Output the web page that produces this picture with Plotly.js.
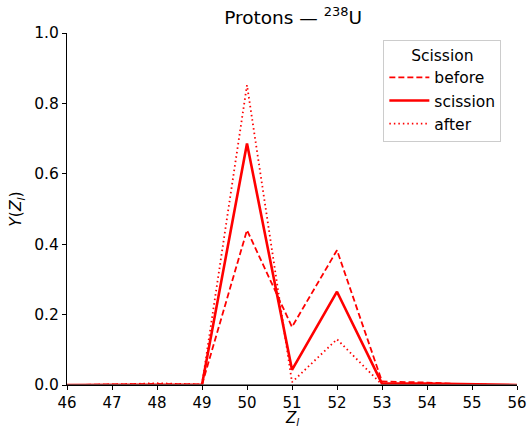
<!DOCTYPE html>
<html><head><meta charset="utf-8">
<script src="https://cdn.plot.ly/plotly-3.0.1.min.js"></script>
<style>body{margin:0;background:#fff}#c{width:530px;height:430px}</style>
</head><body><div id="c"></div>
<script>
const Z = [46, 47, 48, 49, 50, 51, 52, 53, 54, 55, 56];
const before   = [0.0, 0.001, 0.003, 0.001, 0.440, 0.165, 0.383, 0.010, 0.007, 0.001, 0.0];
const scission = [0.0, 0.001, 0.002, 0.001, 0.686, 0.043, 0.265, 0.004, 0.004, 0.001, 0.0];
const after    = [0.0, 0.001, 0.005, 0.001, 0.852, 0.008, 0.130, 0.001, 0.002, 0.0, 0.0];
const xTicks = [46, 47, 48, 49, 50, 51, 52, 53, 54, 55, 56];
const yTicks = [0.0, 0.2, 0.4, 0.6, 0.8, 1.0];

const red = '#ff0000';
const traces = [
  {x: Z, y: before, name: 'before', mode: 'lines', line: {color: red, width: 1.8, dash: '6px,3px'}},
  {x: Z, y: scission, name: 'scission', mode: 'lines', line: {color: red, width: 2.6}},
  {x: Z, y: after, name: 'after', mode: 'lines', line: {color: red, width: 1.8, dash: '1.5px,3px'}}
];
const F = 'DejaVu Sans';
const layout = {
  width: 530, height: 430,
  margin: {l: 67, r: 13, t: 33, b: 45},
  paper_bgcolor: '#fff', plot_bgcolor: '#fff',
  font: {family: F, size: 16, color: '#000'},
  title: {text: 'Protons — <sup>238</sup>U', font: {family: F, size: 18.5, color: '#000'}, x: 0.553, xanchor: 'center', y: 0.975, yanchor: 'top'},
  xaxis: {
    range: [46, 56], tickvals: xTicks, ticktext: xTicks.map(String),
    showgrid: false, zeroline: false, showline: true, linecolor: '#000', linewidth: 1,
    ticks: 'outside', ticklen: 3.5, tickcolor: '#000', tickfont: {family: F, size: 15},
    automargin: false
  },
  yaxis: {
    range: [0, 1], tickvals: yTicks, ticktext: yTicks.map(v => v.toFixed(1)),
    showgrid: false, zeroline: false, showline: true, linecolor: '#000', linewidth: 1,
    ticks: 'outside', ticklen: 4, tickcolor: '#000', tickfont: {family: F, size: 15.5},
    title: {text: '<i>Y</i>(<i>Z<sub>l</sub></i>)', font: {family: F, size: 15.5}, standoff: 8}, automargin: false
  },
  annotations: [{
    text: '<i>Z<sub>l</sub></i>', xref: 'paper', yref: 'paper', x: 0.5, y: -0.126,
    xanchor: 'center', yanchor: 'bottom', showarrow: false, font: {family: F, size: 15}, borderpad: 0
  }],
  shapes: [{type: 'line', xref: 'paper', yref: 'y', x0: 0, x1: 1, y0: 0, y1: 0, line: {color: '#555', width: 1.5}}],
  legend: {
    x: 0.703, y: 0.981, xanchor: 'left', yanchor: 'top',
    bgcolor: 'rgba(255,255,255,0.8)', bordercolor: '#ccc', borderwidth: 1,
    font: {family: F, size: 15.5},
    title: {text: 'Scission', side: 'top center', font: {family: F, size: 15.5}},
    itemwidth: 40, tracegroupgap: 0
  },
  showlegend: true
};
Plotly.newPlot('c', traces, layout, {displayModeBar: false, staticPlot: true});
</script></body></html>
